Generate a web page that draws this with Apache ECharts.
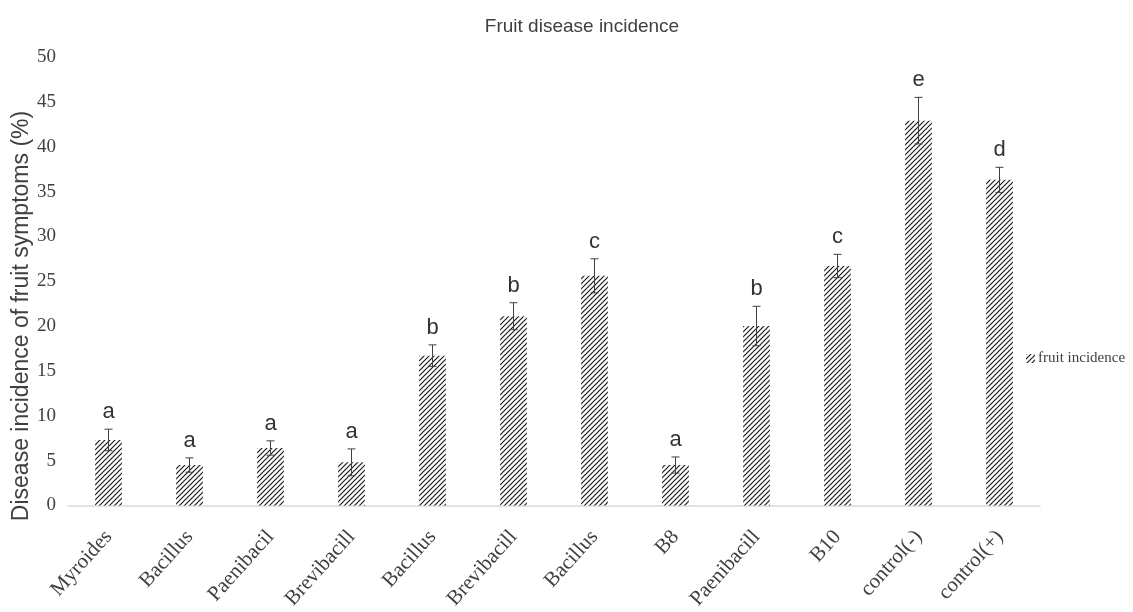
<!DOCTYPE html>
<html>
<head>
<meta charset="utf-8">
<script src="https://cdn.jsdelivr.net/npm/echarts@6/dist/echarts.min.js"></script>
<style>html,body{margin:0;padding:0;background:#fff}#c{width:1133px;height:612px}</style>
</head>
<body>
<div id="c"></div>
<script>
var categories = ['Myroides','Bacillus','Paenibacil','Brevibacill','Bacillus','Brevibacill','Bacillus','B8','Paenibacill','B10','control(-)','control(+)'];
var incidence = [7.3, 4.5, 6.4, 4.8, 16.7, 21.1, 25.6, 4.5, 20.0, 26.7, 42.9, 36.3];
var errors = [1.2, 0.8, 0.8, 1.5, 1.2, 1.5, 1.9, 0.9, 2.2, 1.3, 2.6, 1.4];
var letters = ['a','a','a','a','b','b','c','a','b','c','e','d'];
var yTicks = [0, 5, 10, 15, 20, 25, 30, 35, 40, 45, 50];

function hatch() {
  var c = document.createElement('canvas');
  c.width = 5; c.height = 5;
  var g = c.getContext('2d');
  g.fillStyle = '#ffffff';
  g.fillRect(0, 0, 5, 5);
  g.strokeStyle = '#1a1a1a';
  g.lineWidth = 1.2;
  g.beginPath();
  g.moveTo(-1, 6); g.lineTo(6, -1);
  g.moveTo(-1, 1); g.lineTo(1, -1);
  g.moveTo(4, 6); g.lineTo(6, 4);
  g.stroke();
  return c;
}
var pat = {image: hatch(), repeat: 'repeat'};

var chart = echarts.init(document.getElementById('c'));
var errData = categories.map(function (c, i) { return [i, incidence[i], errors[i]]; });

chart.setOption({
  backgroundColor: '#ffffff',
  animation: false,
  title: {
    text: 'Fruit disease incidence',
    left: 577, top: 12, textAlign: 'center',
    textStyle: {fontFamily: 'Liberation Sans Narrow, Liberation Sans, sans-serif', fontSize: 19, fontWeight: 'normal', color: '#404040'}
  },
  legend: {
    left: 1021, top: 346,
    itemWidth: 9, itemHeight: 9, itemGap: 4,
    icon: 'rect',
    data: ['% fruit incidence'],
    formatter: function () { return 'fruit incidence'; },
    textStyle: {fontFamily: 'Liberation Serif, serif', fontSize: 15, color: '#404040', padding: [0,0,0,-2]}
  },
  graphic: [{
    type: 'text',
    x: 22, y: 316,
    rotation: Math.PI / 2,
    style: {
      text: 'Disease incidence of fruit symptoms (%)',
      font: '23px Liberation Sans, sans-serif',
      fill: '#404040',
      textAlign: 'center', textVerticalAlign: 'middle'
    }
  }],
  grid: {left: 68, right: 93, top: 57, bottom: 104},
  xAxis: {
    type: 'category',
    data: categories,
    axisLine: {lineStyle: {color: '#d9d9d9', width: 1.5}},
    axisTick: {show: false},
    axisLabel: {
      interval: 0, rotate: 48, margin: 28,
      fontFamily: 'Liberation Serif, serif', fontSize: 21, color: '#404040'
    }
  },
  yAxis: {
    type: 'value', min: 0, max: 50, interval: 5,
    splitLine: {show: false},
    axisLine: {show: false},
    axisTick: {show: false},
    axisLabel: {
      margin: 12,
      fontFamily: 'Liberation Serif, serif', fontSize: 19, color: '#404040',
      formatter: function (v) { return yTicks.indexOf(v) >= 0 ? String(v) : ''; }
    }
  },
  series: [{
    name: '% fruit incidence',
    type: 'bar',
    data: incidence,
    barWidth: '33%',
    itemStyle: {color: pat}
  }, {
    type: 'custom',
    data: errData,
    z: 10,
    renderItem: function (params, api) {
      var i = api.value(0), v = api.value(1), e = api.value(2);
      var top = api.coord([i, v + e]);
      var bot = api.coord([i, v - e]);
      var hw = 4;
      return {
        type: 'group',
        children: [
          {type: 'line', shape: {x1: top[0], y1: top[1], x2: bot[0], y2: bot[1]}, style: {stroke: '#404040', lineWidth: 1}},
          {type: 'line', shape: {x1: top[0] - hw, y1: top[1], x2: top[0] + hw, y2: top[1]}, style: {stroke: '#404040', lineWidth: 1}},
          {type: 'line', shape: {x1: bot[0] - hw, y1: bot[1], x2: bot[0] + hw, y2: bot[1]}, style: {stroke: '#404040', lineWidth: 1}},
          {type: 'text', x: top[0], y: top[1] - 6, style: {
            text: letters[params.dataIndex],
            font: '22px Liberation Sans Narrow, Liberation Sans, sans-serif',
            fill: '#333333', textAlign: 'center', textVerticalAlign: 'bottom'
          }}
        ]
      };
    }
  }]
});
</script>
</body>
</html>
